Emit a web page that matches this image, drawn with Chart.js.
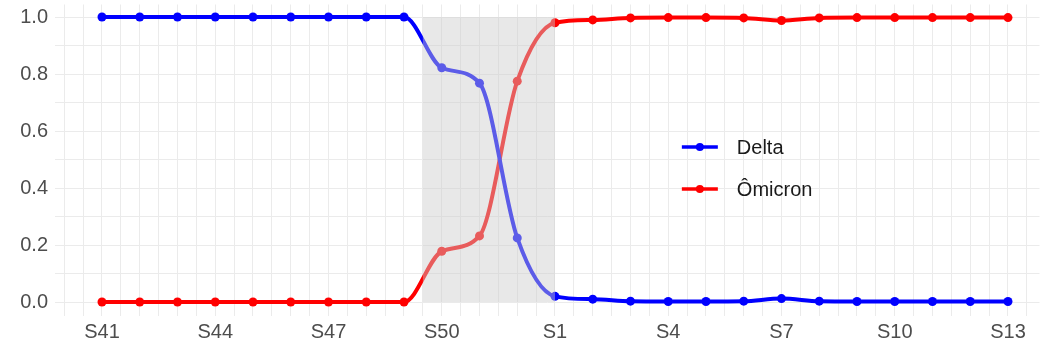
<!DOCTYPE html>
<html>
<head>
<meta charset="utf-8">
<script src="https://cdn.jsdelivr.net/npm/chart.js@4"></script>
<style>
  html, body { margin: 0; padding: 0; background: #fff; overflow: hidden; }
  #wrap { width: 1044px; height: 354px; position: relative; }
  canvas { display: block; }
</style>
</head>
<body>
<div id="wrap"><canvas id="chart"></canvas></div>
<script>
"use strict";

const weeks = ['S41', 'S42', 'S43', 'S44', 'S45', 'S46', 'S47', 'S48', 'S49', 'S50', 'S51', 'S52',
    'S1', 'S2', 'S3', 'S4', 'S5', 'S6', 'S7', 'S8', 'S9', 'S10', 'S11', 'S12', 'S13'];
const xTickLabels = ['S41', 'S44', 'S47', 'S50', 'S1', 'S4', 'S7', 'S10', 'S13'];
const yTickLabels = ['0.0', '0.2', '0.4', '0.6', '0.8', '1.0'];

const delta = [1, 1, 1, 1, 1, 1, 1, 1, 1, 0.822, 0.768, 0.225,
    0.02, 0.01, 0.003, 0.002, 0.002, 0.003, 0.012, 0.003, 0.002, 0.002, 0.002, 0.002, 0.002];
const omicron = [0, 0, 0, 0, 0, 0, 0, 0, 0, 0.178, 0.232, 0.775,
    0.98, 0.99, 0.997, 0.998, 0.998, 0.997, 0.988, 0.997, 0.998, 0.998, 0.998, 0.998, 0.998];

// shaded period (between S49/S50 and S1)
const shadeFrom = 8.5;
const shadeTo = 12;

const TEXT = '#4d4d4d';
const GRID = '#ebebeb';
const FONT = '"Liberation Sans", Arial, sans-serif';

const toPoints = values => values.map((y, x) => ({ x, y }));

const makeSeries = (label, values, color) => ({
    label,
    data: toPoints(values),
    borderColor: color,
    backgroundColor: color,
    borderWidth: 4,
    pointRadius: 4.5,
    pointHoverRadius: 4.5,
    pointBorderWidth: 0,
    cubicInterpolationMode: 'monotone',
    fill: false
});

// chart.js reserves room for half a label at the ends, ggplot doesn't
const noPadding = scale => {
    scale.paddingTop = 0;
    scale.paddingBottom = 0;
    scale.paddingLeft = 0;
    scale.paddingRight = 0;
};

// grey box drawn over the lines, like the ggplot annotate()
const shadePlugin = {
    id: 'shade',
    afterDatasetsDraw(chart) {
        const { ctx, scales: { x, y } } = chart;
        const left = x.getPixelForValue(shadeFrom);
        const right = x.getPixelForValue(shadeTo);
        const top = y.getPixelForValue(1);
        const bottom = y.getPixelForValue(0);
        ctx.save();
        ctx.fillStyle = 'rgba(204,204,204,0.45)';
        ctx.fillRect(left, top, right - left, bottom - top);
        ctx.restore();
    }
};

// legend inside the panel: line + dot key, label on the right
const legendPlugin = {
    id: 'insideLegend',
    afterDraw(chart) {
        const { ctx, chartArea } = chart;
        const keyX = chartArea.left + chartArea.width * 0.655;
        let keyY = chartArea.top + chartArea.height * 0.4575;
        ctx.save();
        chart.data.datasets.forEach(ds => {
            ctx.strokeStyle = ds.borderColor;
            ctx.fillStyle = ds.borderColor;
            ctx.lineWidth = 3.5;
            ctx.beginPath();
            ctx.moveTo(keyX - 18, keyY);
            ctx.lineTo(keyX + 18, keyY);
            ctx.stroke();
            ctx.beginPath();
            ctx.arc(keyX, keyY, 4, 0, Math.PI * 2);
            ctx.fill();
            ctx.fillStyle = '#1a1a1a';
            ctx.font = `20px ${FONT}`;
            ctx.textBaseline = 'middle';
            ctx.fillText(ds.label, keyX + 37, keyY + 1);
            keyY += 42;
        });
        ctx.restore();
    }
};

const xGrid = [];
for (let v = -1; v <= 24.5; v += 0.5) xGrid.push(v);
const yGrid = [];
for (let v = 0; v <= 10; v++) yGrid.push(v / 10);

new Chart(document.getElementById('chart'), {
    type: 'line',
    data: {
        datasets: [
            makeSeries('Delta', delta, '#0000ff'),
            makeSeries('Ômicron', omicron, '#ff0000')
        ]
    },
    plugins: [shadePlugin, legendPlugin],
    options: {
        responsive: true,
        maintainAspectRatio: false,
        animation: false,
        layout: { padding: { top: 2, right: 0, left: 0, bottom: 0 } },
        plugins: { legend: { display: false }, tooltip: { enabled: false } },
        scales: {
            x: {
                type: 'linear',
                min: -1.245,
                max: 24.835,
                afterBuildTicks: scale => { scale.ticks = xGrid.map(value => ({ value })); },
                afterFit: scale => { scale.height = 38; noPadding(scale); },
                border: { display: false },
                grid: { color: GRID, lineWidth: 1, drawTicks: false },
                ticks: {
                    autoSkip: false,
                    maxRotation: 0,
                    padding: 4,
                    color: TEXT,
                    font: { family: FONT, size: 20 },
                    callback: v => {
                        const label = weeks[v];
                        return Number.isInteger(v) && xTickLabels.includes(label) ? label : '';
                    }
                }
            },
            y: {
                min: -0.049,
                max: 1.044,
                afterBuildTicks: scale => { scale.ticks = yGrid.map(value => ({ value })); },
                afterFit: scale => { scale.width = 55; noPadding(scale); },
                border: { display: false },
                grid: { color: GRID, lineWidth: 1, drawTicks: false },
                ticks: {
                    autoSkip: false,
                    padding: 7,
                    color: TEXT,
                    font: { family: FONT, size: 20 },
                    callback: v => {
                        const label = v.toFixed(1);
                        return yTickLabels.includes(label) && Math.round(v * 10) % 2 === 0 ? label : '';
                    }
                }
            }
        }
    }
});
</script>
</body>
</html>
